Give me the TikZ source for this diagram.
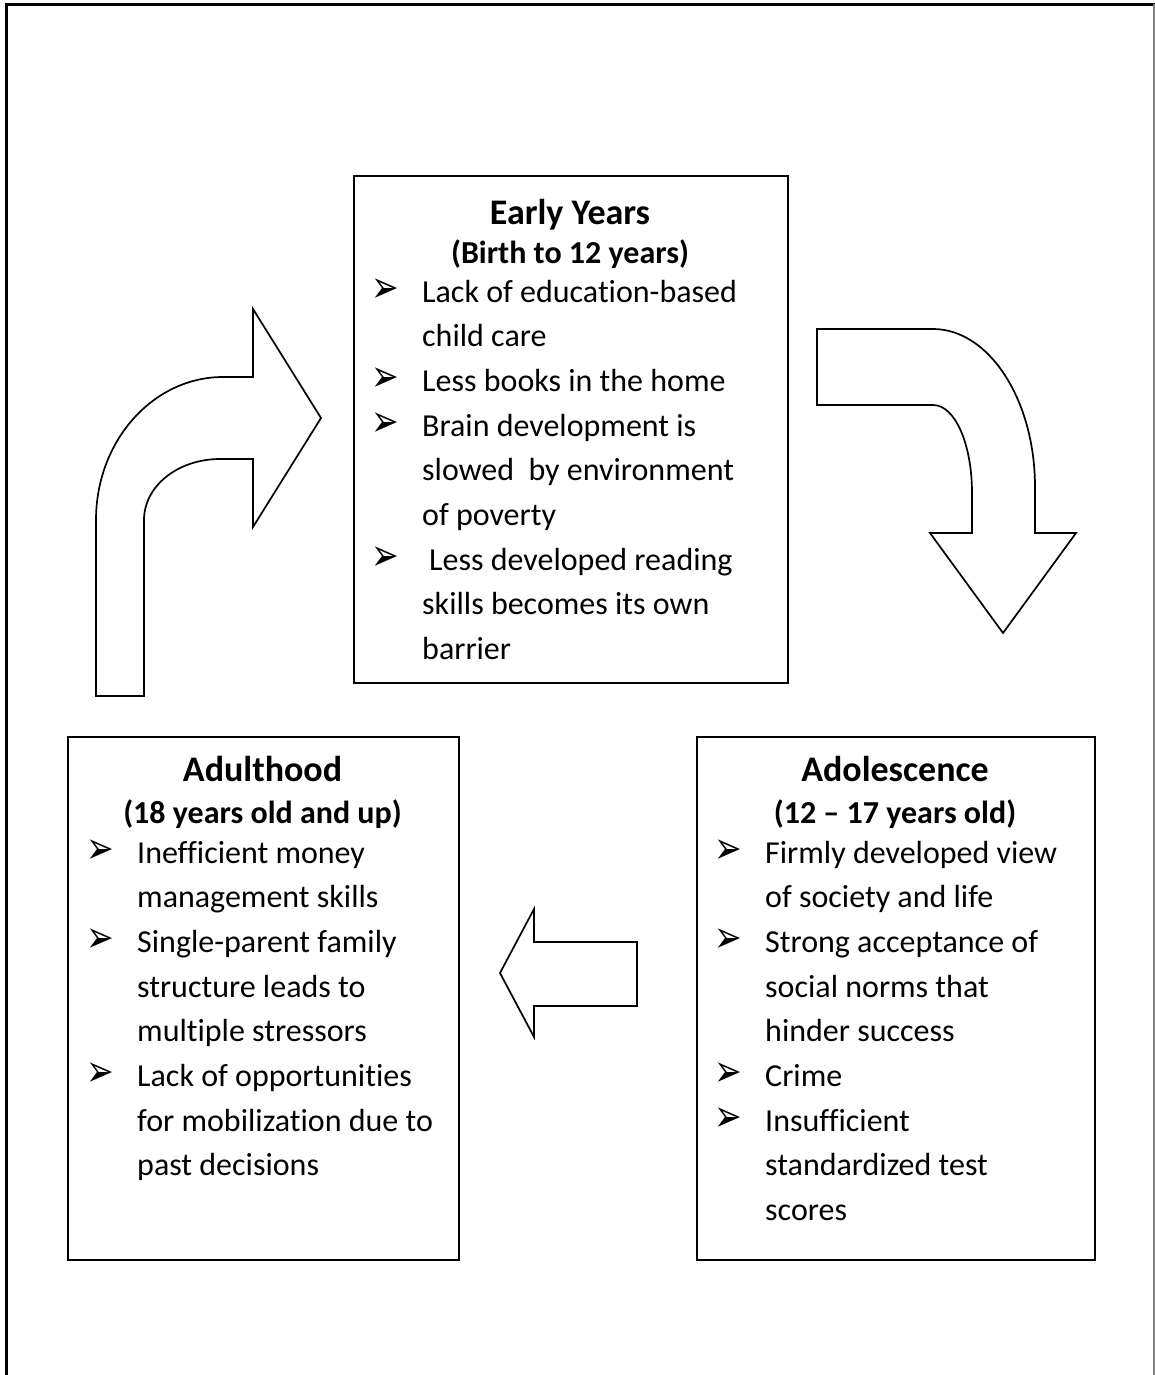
\documentclass[tikz,border=0pt]{standalone}
\usepackage{graphicx}
\usepackage{fontspec}
\setmainfont{Carlito}[Ligatures=NoCommon]
\newfontfamily\bulfont{DejaVu Sans}
\newcommand\bul{\makebox[0pt][r]{\scalebox{1}[1.35]{\bulfont\fontsize{33}{33}\selectfont ➢}\hspace{23pt}}}
\begin{document}
\begin{tikzpicture}[x=1pt,y=-1pt,
  stagebox/.style={draw, line width=1.8pt, inner sep=0pt, anchor=north west},
  ttl/.style={font=\bfseries\fontsize{36}{40}\selectfont, anchor=base, inner sep=0pt},
  sub/.style={font=\bfseries\fontsize{32}{36}\selectfont, anchor=base, inner sep=0pt},
  lst/.style={anchor=base west, inner sep=0pt, font=\fontsize{32}{44.7}\selectfont},
  blockarrow/.style={draw, line width=1.7pt, line join=miter, fill=white}]
\useasboundingbox (0,0) rectangle (1155,1375);
% outer frame
\draw[line width=3pt] (6,1376) -- (6,4.5) -- (1156,4.5);
\draw[gray, line width=1.8pt] (1154,4) -- (1154,1376);

% boxes
\node[stagebox, minimum width=434pt, minimum height=507pt] (early) at (353,175) {};
\node[stagebox, minimum width=391pt, minimum height=523pt] (adult) at (67,736) {};
\node[stagebox, minimum width=398pt, minimum height=523pt] (adol) at (696,736) {};

% Early years text
\node[ttl] (earlyT) at (570,224) {Early Years};
\node[sub] (earlyS) at (570,263) {(Birth to 12 years)};
\node[lst] (earlyL) at (422,302) {\parbox[t]{360pt}{\raggedright
\bul Lack of education-based\\
child care\\
\bul Less books in the home\\
\bul Brain development is\\
slowed\ \ by environment\\
of poverty\\
\bul\hspace{7pt}Less developed reading\\
skills becomes its own\\
barrier}};

% Adulthood text
\node[ttl] (adultT) at (262.5,781) {Adulthood};
\node[sub] (adultS) at (262.5,823) {(18 years old and up)};
\node[lst] (adultL) at (137,863) {\parbox[t]{320pt}{\raggedright
\bul Inefficient money\\
management skills\\
\bul Single-parent family\\
structure leads to\\
multiple stressors\\
\bul Lack of opportunities\\
for mobilization due to\\
past decisions}};

% Adolescence text
\node[ttl] (adolT) at (895,781) {Adolescence};
\node[sub] (adolS) at (895,823) {(12 – 17 years old)};
\node[lst] (adolL) at (765,863) {\parbox[t]{320pt}{\raggedright
\bul Firmly developed view\\
of society and life\\
\bul Strong acceptance of\\
social norms that\\
hinder success\\
\bul Crime\\
\bul Insufficient\\
standardized test\\
scores}};

% curved arrow: adulthood -> early years
\draw[blockarrow] (96,696) -- (96,520)
  .. controls (96,441) and (153,377) .. (223,377)
  -- (253,377) -- (253,309) -- (321,418) -- (253,527) -- (253,459)
  -- (220,459) .. controls (178,459) and (144,486) .. (144,520)
  -- (144,696) -- cycle;

% curved arrow: early years -> adolescence
\draw[blockarrow] (817,329) -- (933,329)
  .. controls (989,329) and (1035,400) .. (1035,487)
  -- (1035,533) -- (1076,533) -- (1003,633) -- (930,533) -- (972,533)
  -- (972,493) .. controls (972,444) and (955,405) .. (933,405)
  -- (817,405) -- cycle;

% straight arrow: adolescence -> adulthood
\draw[blockarrow] (637,942) -- (534,942) -- (534,909) -- (500,973)
  -- (534,1037) -- (534,1006) -- (637,1006) -- cycle;
\end{tikzpicture}
\end{document}
